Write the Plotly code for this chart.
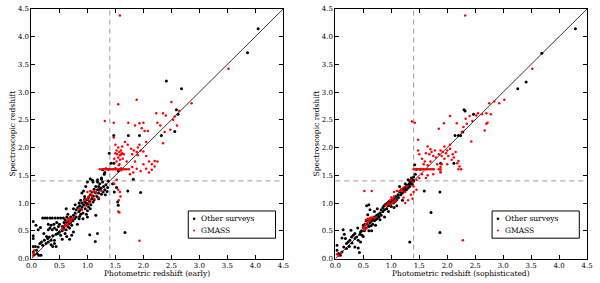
import plotly.graph_objects as go

# ---------------- data ----------------
ticks = [0.0, 0.5, 1.0, 1.5, 2.0, 2.5, 3.0, 3.5, 4.0, 4.5]
tick_labels = ["0.0", "0.5", "1.0", "1.5", "2.0", "2.5", "3.0", "3.5", "4.0", "4.5"]
cut = 1.4
diag = [0.0, 4.5]

early_other = [
    (0.03,0.67),(0.03,0.41),(0.03,0.36),(0.03,0.22),(0.07,0.22),(0.03,0.12),(0.05,0.07),(0.10,0.09),
    (0.13,0.06),(0.17,0.06),(0.09,0.15),(0.12,0.21),(0.15,0.27),(0.18,0.30),(0.20,0.24),(0.23,0.33),
    (0.26,0.27),(0.29,0.36),(0.32,0.39),(0.35,0.33),(0.38,0.41),(0.41,0.33),(0.41,0.27),(0.44,0.44),
    (0.38,0.22),(0.44,0.22),(0.35,0.25),(0.30,0.30),(0.27,0.40),(0.22,0.45),(0.16,0.56),(0.12,0.52),
    (0.08,0.60),(0.20,0.73),(0.24,0.73),(0.28,0.73),(0.33,0.73),(0.37,0.73),(0.42,0.73),(0.47,0.73),
    (0.52,0.73),(0.57,0.73),(0.30,0.52),(0.33,0.55),(0.37,0.52),(0.41,0.55),(0.45,0.52),(0.48,0.58),
    (0.30,0.62),(0.35,0.60),(0.40,0.62),(0.45,0.65),(0.50,0.62),(0.47,0.45),(0.50,0.48),(0.52,0.42),
    (0.55,0.50),(0.55,0.58),(0.58,0.55),(0.58,0.65),(0.60,0.60),(0.60,0.70),(0.62,0.52),(0.62,0.65),
    (0.63,0.75),(0.65,0.58),(0.65,0.68),(0.67,0.63),(0.67,0.72),(0.68,0.55),(0.70,0.65),(0.70,0.75),
    (0.72,0.70),(0.72,0.60),(0.74,0.68),(0.75,0.78),(0.77,0.72),(0.78,0.82),(0.80,0.75),(0.80,0.88),
    (0.62,0.90),(0.65,0.80),(0.55,0.35),(0.63,0.40),(0.68,0.35),(0.72,0.42),(0.60,0.45),(0.75,0.48),
    (0.85,0.72),(0.88,0.80),(0.82,0.62),
    (0.83,0.92),(0.85,0.85),(0.86,0.95),(0.88,0.88),(0.90,0.93),(0.90,1.00),(0.92,0.82),(0.93,0.97),
    (0.95,1.02),(0.95,1.07),(0.96,0.90),(0.98,1.00),(1.00,0.98),(1.00,1.06),(1.02,0.93),(1.02,1.10),
    (1.04,1.03),(1.05,1.15),(1.06,0.97),(1.08,1.08),(1.08,1.20),(1.10,1.02),(1.10,1.13),(1.12,1.06),
    (1.12,1.25),(1.14,1.19),(1.15,1.30),(1.17,1.12),(1.18,1.24),(1.20,1.30),(1.20,1.18),(1.22,1.35),
    (1.24,1.27),(1.25,1.16),(1.27,1.38),(1.29,1.30),(1.31,1.24),(1.33,1.33),(1.35,1.21),(1.37,1.40),
    (0.93,1.22),(0.97,1.30),(1.00,1.38),(0.90,1.18),(0.95,1.12),(0.88,1.05),(0.86,0.76),(0.92,0.72),
    (1.00,0.86),(1.05,0.90),(1.15,0.78),(1.04,0.43),(1.14,0.31),(1.18,0.45),(1.00,0.75),(0.78,0.97),
    (1.05,1.44),(1.10,1.38),(1.18,1.42),(1.25,1.45),(1.30,1.52),(1.27,1.60),(1.33,1.62),(1.38,1.61),
    (1.22,1.25),(1.28,1.20),(1.32,1.15),(1.36,1.28),(1.20,1.08),(0.98,0.80),(0.85,1.00),(0.75,0.90),
    (1.48,1.20),(1.52,1.28),(1.45,1.35),(1.54,1.02),(1.55,0.96),(1.67,0.47),(1.72,1.22),(1.95,1.19),
    (1.82,1.43),(1.39,1.90),(1.42,1.72),(1.47,1.72),(1.47,2.22),(1.73,2.22),(1.93,2.22),(2.32,2.22),
    (2.56,2.29),(2.59,2.68),(2.62,2.60),(2.41,3.20),(2.68,3.06),(3.86,3.71),(4.05,4.14),(1.31,1.55),
    (1.25,1.43),(1.18,1.38),(1.09,1.41),(1.60,1.62),(1.55,1.58),
]

early_gmass = [
    (1.22,1.61),(1.26,1.61),(1.29,1.61),(1.32,1.61),(1.35,1.61),(1.38,1.61),(1.41,1.61),(1.44,1.61),
    (1.46,1.61),(1.49,1.61),(1.52,1.61),(1.55,1.61),(1.58,1.61),(1.61,1.61),(1.64,1.61),(1.67,1.61),
    (1.70,1.61),(1.74,1.61),(1.50,1.63),(1.60,1.59),
    (1.50,1.90),(1.52,1.95),(1.53,1.88),(1.55,1.82),(1.55,2.00),(1.57,1.92),(1.58,1.78),(1.58,1.86),
    (1.60,1.95),(1.60,1.88),(1.62,1.90),(1.62,2.02),(1.63,1.80),(1.65,1.88),(1.57,1.70),(1.52,1.75),
    (1.48,1.80),(1.50,2.05),(1.56,1.68),
    (1.58,4.38),(3.52,3.42),(2.86,2.80),(2.64,2.66),(2.50,2.82),(2.56,2.56),(2.40,2.58),(2.35,2.62),
    (2.23,2.62),(1.88,2.86),(1.55,2.78),(1.31,2.48),(1.47,2.45),(1.73,2.45),(1.85,2.40),(1.93,2.44),
    (1.97,2.35),(2.00,2.45),(2.02,2.30),(2.08,2.30),(2.25,2.45),(2.30,2.40),(2.35,2.08),(2.38,2.28),
    (2.60,2.40),(2.53,2.50),(2.48,2.32),(1.47,2.18),(1.67,2.10),(1.72,2.05),(1.78,1.98),(1.83,1.95),
    (1.88,1.92),(1.93,2.05),(2.00,1.93),(2.05,1.85),(1.85,1.75),(1.90,1.86),(1.80,1.88),(2.10,1.75),
    (2.15,1.70),(2.20,1.76),(2.20,1.66),(2.25,1.75),(2.10,1.55),(2.15,1.60),(2.05,1.62),(1.95,1.58),
    (1.88,1.62),(1.82,1.55),(1.76,1.52),(2.00,1.70),(1.95,1.95),(1.90,2.00),(2.05,2.10),(1.80,1.65),
    (1.70,1.75),
    (1.55,0.85),(1.57,0.83),(1.58,1.20),(1.55,1.24),(1.56,1.05),(1.59,1.12),(1.93,0.32),(1.48,1.35),
    (1.52,1.42),
    (0.03,0.10),(0.05,0.15),(0.03,0.05),(0.55,0.55),(0.60,0.60),(0.62,0.62),(0.65,0.60),(0.68,0.65),
    (0.70,0.68),(0.72,0.72),(0.75,0.73),(0.68,0.72),(0.66,0.70),(0.63,0.68),(0.58,0.52),(0.95,1.05),
    (1.00,1.08),(1.02,1.12),(1.05,1.05),(1.05,1.22),(1.08,1.12),(1.10,1.20),(1.12,1.08),(1.07,1.15),
    (1.03,1.00),(0.98,0.95),(1.15,1.20),(1.25,1.22),(0.85,0.90),(0.90,0.88),(1.00,1.20),(1.20,1.10),
]

soph_other = [
    (0.03,0.24),(0.03,0.15),(0.06,0.09),(0.09,0.06),(0.12,0.12),(0.15,0.21),(0.12,0.37),(0.18,0.36),
    (0.16,0.44),(0.14,0.52),(0.20,0.27),(0.23,0.30),(0.26,0.33),(0.28,0.51),(0.29,0.39),(0.32,0.42),
    (0.35,0.36),(0.38,0.39),(0.41,0.33),(0.44,0.44),(0.41,0.19),(0.43,0.11),(0.35,0.21),(0.30,0.28),
    (0.25,0.22),(0.20,0.18),(0.47,0.50),(0.50,0.56),(0.53,0.62),(0.55,0.68),(0.58,0.70),(0.64,0.73),
    (0.58,0.79),(0.64,0.59),(0.70,0.68),(0.56,0.95),(0.60,0.97),(0.62,0.88),(0.45,0.48),(0.48,0.42),
    (0.50,0.60),(0.52,0.50),(0.55,0.55),(0.57,0.62),(0.60,0.58),(0.62,0.65),(0.65,0.68),(0.67,0.62),
    (0.68,0.72),(0.70,0.75),(0.72,0.70),(0.74,0.78),(0.75,0.72),(0.77,0.80),(0.78,0.75),(0.80,0.82),
    (0.82,0.78),(0.82,0.88),(0.85,0.85),(0.85,0.92),(0.87,0.95),(0.88,0.88),(0.90,0.98),(0.92,0.90),
    (0.93,1.00),(0.95,0.95),(0.96,1.03),(0.98,0.98),(1.00,1.02),(1.00,0.94),(1.02,1.06),(1.04,1.00),
    (1.05,1.08),(1.07,1.03),(1.08,1.12),(1.10,1.06),(1.12,1.15),(1.13,1.10),(1.15,1.20),(1.17,1.15),
    (1.18,1.24),(1.20,1.18),(1.22,1.26),(1.23,1.22),(1.25,1.28),(1.27,1.24),(1.28,1.32),(1.30,1.27),
    (1.32,1.35),(1.33,1.30),(1.35,1.38),(1.37,1.34),(1.38,1.42),(1.40,1.40),(1.36,1.45),(1.33,1.40),
    (1.30,1.42),(1.25,1.35),(1.15,1.30),(1.05,0.92),(0.95,0.85),(1.10,0.95),(1.20,1.05),(0.88,0.75),
    (0.80,0.70),(0.72,0.60),(0.65,0.50),(0.75,0.90),(0.70,0.85),(0.40,0.55),(0.45,0.30),(0.35,0.45),
    (0.60,0.50),(0.50,0.40),
    (4.29,4.14),(3.69,3.70),(3.41,3.18),(3.26,3.06),(2.47,2.60),(2.30,2.68),(2.32,2.66),(2.28,2.28),
    (2.24,2.22),(2.14,2.22),(2.20,2.22),(2.12,1.72),(1.88,1.72),(1.87,1.20),(1.71,0.83),(1.87,0.47),
    (1.33,0.30),(1.59,1.22),(1.42,1.69),(1.39,1.41),(1.43,1.52),(1.45,1.61),(1.52,1.61),(1.40,1.47),
]

soph_gmass = [
    (2.32,4.38),(3.52,3.42),(3.02,2.86),(2.93,2.80),(2.84,2.83),(2.75,2.80),(2.78,2.60),(2.70,2.62),
    (2.62,2.60),(2.55,2.62),(2.52,2.58),(2.40,2.57),(2.05,2.57),(2.33,2.52),(2.45,2.48),(2.67,2.31),
    (2.70,2.43),(2.72,2.45),(2.35,2.43),(2.29,2.37),(2.43,2.11),(2.26,2.28),(2.17,2.44),(1.94,2.44),
    (1.85,2.34),(1.37,2.47),(1.42,2.45),(1.48,2.14),(1.65,2.02),(1.70,1.97),(1.62,1.90),(1.68,1.88),
    (1.72,1.92),(1.75,1.85),(1.78,1.95),(1.80,1.82),(1.85,1.88),(1.88,1.95),(1.90,1.85),(1.92,1.92),
    (1.95,1.80),(1.98,1.90),(2.00,1.95),(2.02,1.85),(2.05,1.98),(2.08,1.78),(2.10,1.88),(2.12,1.82),
    (2.15,1.92),(2.05,2.05),(1.95,2.02),(1.60,1.75),(1.55,1.80),(1.50,1.88),(1.48,1.95),(1.58,1.70),
    (1.65,1.68),(1.70,1.75),(1.82,1.70),(2.18,1.72),(2.20,1.76),(2.22,1.66),(2.00,1.70),(1.90,1.70),
    (1.55,1.52),(1.65,1.50),(1.75,1.52),(1.88,1.55),(1.62,1.45),(1.50,1.45),(1.45,1.42),
    (1.40,1.61),(1.43,1.61),(1.46,1.61),(1.49,1.61),(1.52,1.61),(1.55,1.61),(1.58,1.61),(1.61,1.61),
    (1.64,1.61),(1.67,1.61),(1.70,1.61),(1.73,1.61),(1.76,1.61),(1.85,1.61),(1.88,1.61),(2.20,1.61),
    (2.25,1.61),(1.88,1.57),(1.88,1.65),
    (2.28,0.33),(0.52,1.22),(0.65,1.22),(1.25,1.00),(1.22,1.10),(1.30,1.05),(1.35,1.15),(1.38,1.08),
    (1.40,1.20),(1.45,1.24),(1.40,1.30),(1.35,1.42),(1.38,1.38),
    (0.03,0.08),(0.06,0.05),(0.10,0.10),(0.50,0.55),(0.52,0.58),(0.55,0.62),(0.58,0.65),(0.60,0.68),
    (0.62,0.70),(0.55,0.70),(0.58,0.72),(0.62,0.73),(0.65,0.73),(0.70,0.73),(0.68,0.75),(0.52,0.52),
    (0.56,0.55),(0.95,1.00),(0.98,1.05),(1.00,1.10),(1.02,1.08),(1.05,1.12),(1.05,1.02),(1.08,1.05),
    (0.98,0.98),(1.02,1.00),(1.15,1.22),(1.18,1.25),(1.20,1.22),(1.25,1.20),(1.22,1.28),(1.28,1.30),
    (1.05,1.20),(1.10,1.22),(0.90,0.95),(0.93,0.97),
]

x_titles = ["Photometric redshift (early)", "Photometric redshift (sophisticated)"]
y_title = "Spectroscopic redshift"
series_names = ["Other surveys", "GMASS"]
series_colors = ["black", "#ff0000"]

# ---------------- figure ----------------
FONT = "DejaVu Serif"
W, H = 600, 283
fig = go.Figure()

# panel boxes in pixels (left, right, top, bottom)
boxes = [(26, 283, 5, 262), (336, 593, 5, 262)]
panels = [
    ("x", "y", early_other, early_gmass),
    ("x2", "y2", soph_other, soph_gmass),
]

for (xa, ya, other, gmass) in panels:
    fig.add_trace(go.Scatter(x=[cut, cut], y=diag, mode="lines", xaxis=xa, yaxis=ya,
                             line=dict(color="#999999", width=1, dash="5px,4px"),
                             showlegend=False, hoverinfo="skip"))
    fig.add_trace(go.Scatter(x=diag, y=[cut, cut], mode="lines", xaxis=xa, yaxis=ya,
                             line=dict(color="#999999", width=1, dash="5px,4px"),
                             showlegend=False, hoverinfo="skip"))
    fig.add_trace(go.Scatter(x=diag, y=diag, mode="lines", xaxis=xa, yaxis=ya,
                             line=dict(color="black", width=0.8),
                             showlegend=False, hoverinfo="skip"))
    fig.add_trace(go.Scatter(x=[p[0] for p in other], y=[p[1] for p in other], mode="markers",
                             xaxis=xa, yaxis=ya, name=series_names[0], showlegend=False,
                             marker=dict(color=series_colors[0], size=3, line=dict(width=0))))
    fig.add_trace(go.Scatter(x=[p[0] for p in gmass], y=[p[1] for p in gmass], mode="markers",
                             xaxis=xa, yaxis=ya, name=series_names[1], showlegend=False,
                             marker=dict(color=series_colors[1], size=2.5, line=dict(width=0))))

ybot, ytop = 1 - 262 / H, 1 - 5 / H
axis_common = dict(
    range=[0, 4.5], tickvals=ticks, ticktext=tick_labels, ticks="inside", ticklen=4,
    tickcolor="black", tickwidth=0.8, showline=True, linecolor="black", linewidth=1,
    mirror="allticks", showgrid=False, zeroline=False,
    tickfont=dict(family=FONT, size=7, color="black"),
)

annotations = []
shapes = []
for i, (l, r, t, b) in enumerate(boxes):
    # x-axis title
    annotations.append(dict(text=x_titles[i], xref="paper", yref="paper",
                            x=(l + r) / 2 / W, y=1 - 277.5 / H, xanchor="center", yanchor="middle",
                            showarrow=False, font=dict(family=FONT, size=7.5, color="black")))
    # y-axis title
    annotations.append(dict(text=y_title, xref="paper", yref="paper",
                            x=(l - 19) / W, y=1 - ((t + b) / 2) / H, xanchor="center", yanchor="middle",
                            textangle=-90, showarrow=False,
                            font=dict(family=FONT, size=7.5, color="black")))
    # legend box
    lx0, lx1, ly0, ly1 = l + 160, l + 249, 213, 241
    shapes.append(dict(type="rect", xref="paper", yref="paper",
                       x0=lx0 / W, x1=lx1 / W, y0=1 - ly1 / H, y1=1 - ly0 / H,
                       line=dict(color="black", width=1), fillcolor="white", layer="above"))
    for k, name in enumerate(series_names):
        yy = 1 - (221 + 12 * k) / H
        rad = 1.3 if k == 0 else 1.0
        shapes.append(dict(type="circle", xref="paper", yref="paper",
                           xsizemode="pixel", ysizemode="pixel",
                           xanchor=(lx0 + 6) / W, yanchor=yy,
                           x0=-rad, x1=rad, y0=-rad, y1=rad,
                           fillcolor=series_colors[k], line=dict(width=0), layer="above"))
        annotations.append(dict(text=name, xref="paper", yref="paper",
                                x=(lx0 + 11) / W, y=yy, xanchor="left", yanchor="middle",
                                showarrow=False, font=dict(family=FONT, size=7.5, color="black")))

fig.update_layout(
    width=W, height=H, margin=dict(l=0, r=0, t=0, b=0),
    paper_bgcolor="white", plot_bgcolor="white",
    font=dict(family=FONT, size=7, color="black"),
    showlegend=False,
    xaxis=dict(axis_common, domain=[boxes[0][0] / W, boxes[0][1] / W], anchor="y"),
    yaxis=dict(axis_common, domain=[ybot, ytop], anchor="x"),
    xaxis2=dict(axis_common, domain=[boxes[1][0] / W, boxes[1][1] / W], anchor="y2"),
    yaxis2=dict(axis_common, domain=[ybot, ytop], anchor="x2"),
    annotations=annotations,
    shapes=shapes,
)

fig.write_html(
    "out.html",
    config={"displayModeBar": False},
    post_script="document.body.style.margin='0';document.body.style.padding='0';"
                "document.body.style.overflow='hidden';",
)
